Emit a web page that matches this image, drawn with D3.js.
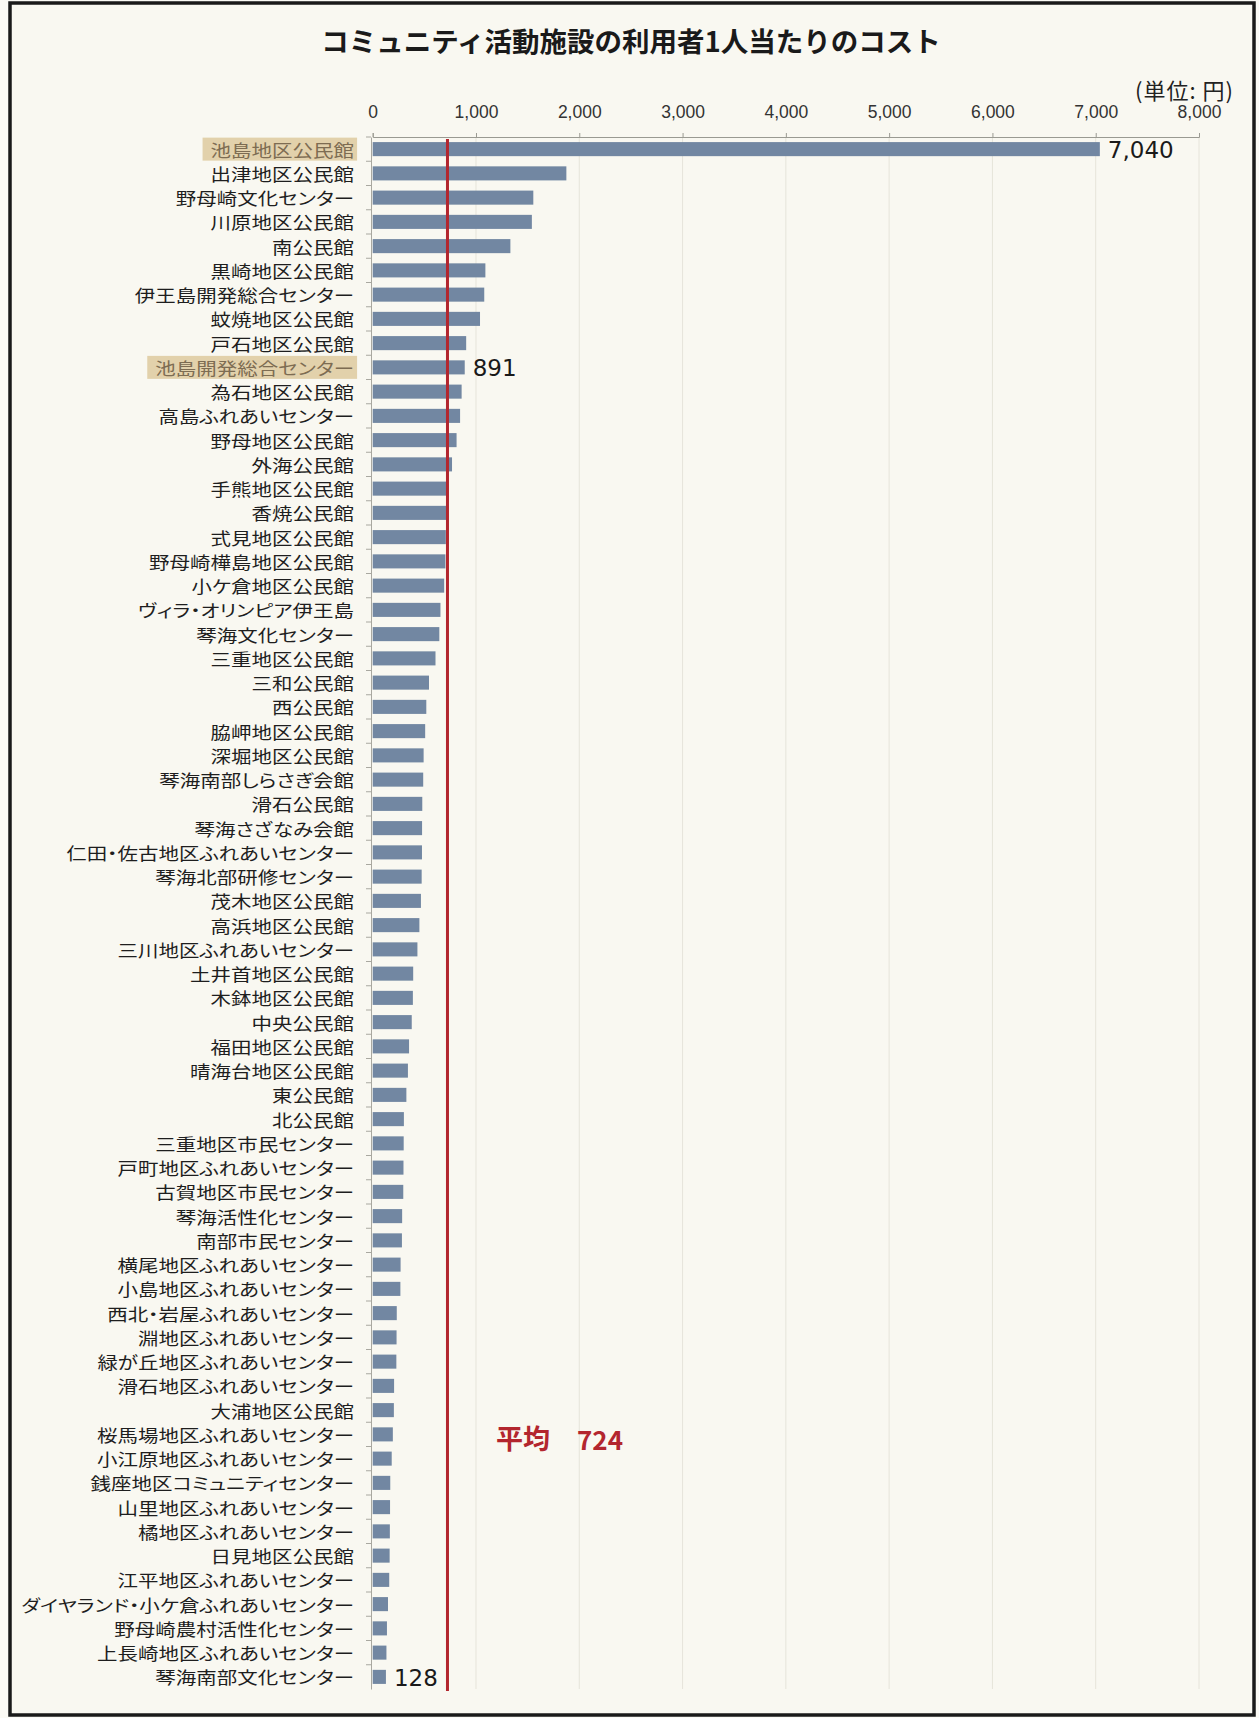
<!DOCTYPE html>
<html lang="ja">
<head>
<meta charset="utf-8">
<script src="https://cdn.jsdelivr.net/npm/d3@7/dist/d3.min.js"></script>
<style>
  html, body { margin: 0; padding: 0; background: #fbfaf5; }
  svg { display: block; }
  .jp { font-family: "Noto Sans CJK JP", "Noto Sans", sans-serif; font-feature-settings: "palt"; }
  .jpfull { font-family: "Noto Sans CJK JP", "Noto Sans", sans-serif; }
</style>
</head>
<body>
<div id="chart"></div>
<script>
const title = "コミュニティ活動施設の利用者1人当たりのコスト";
const unitLabel = "(単位: 円)";
const facilities = [
  "池島地区公民館", "出津地区公民館", "野母崎文化センター", "川原地区公民館", "南公民館",
  "黒崎地区公民館", "伊王島開発総合センター", "蚊焼地区公民館", "戸石地区公民館", "池島開発総合センター",
  "為石地区公民館", "高島ふれあいセンター", "野母地区公民館", "外海公民館", "手熊地区公民館",
  "香焼公民館", "式見地区公民館", "野母崎樺島地区公民館", "小ケ倉地区公民館", "ヴィラ・オリンピア伊王島",
  "琴海文化センター", "三重地区公民館", "三和公民館", "西公民館", "脇岬地区公民館",
  "深堀地区公民館", "琴海南部しらさぎ会館", "滑石公民館", "琴海さざなみ会館", "仁田・佐古地区ふれあいセンター",
  "琴海北部研修センター", "茂木地区公民館", "高浜地区公民館", "三川地区ふれあいセンター", "土井首地区公民館",
  "木鉢地区公民館", "中央公民館", "福田地区公民館", "晴海台地区公民館", "東公民館",
  "北公民館", "三重地区市民センター", "戸町地区ふれあいセンター", "古賀地区市民センター", "琴海活性化センター",
  "南部市民センター", "横尾地区ふれあいセンター", "小島地区ふれあいセンター", "西北・岩屋ふれあいセンター", "淵地区ふれあいセンター",
  "緑が丘地区ふれあいセンター", "滑石地区ふれあいセンター", "大浦地区公民館", "桜馬場地区ふれあいセンター", "小江原地区ふれあいセンター",
  "銭座地区コミュニティセンター", "山里地区ふれあいセンター", "橘地区ふれあいセンター", "日見地区公民館", "江平地区ふれあいセンター",
  "ダイヤランド・小ケ倉ふれあいセンター", "野母崎農村活性化センター", "上長崎地区ふれあいセンター", "琴海南部文化センター"
];
const costs = [
  7040, 1875, 1555, 1541, 1333,
  1091, 1080, 1039, 905, 891,
  861, 846, 812, 768, 718,
  712, 708, 704, 692, 656,
  645, 608, 545, 519, 508,
  493, 489, 480, 478, 477,
  474, 467, 452, 433, 392,
  389, 378, 352, 341, 326,
  302, 300, 298, 296, 285,
  283, 270, 268, 233, 231,
  229, 207, 205, 195, 184,
  170, 168, 166, 164, 160,
  148, 138, 133, 128
];
const highlighted = ["池島地区公民館", "池島開発総合センター"];
const valueLabeled = ["池島地区公民館", "池島開発総合センター", "琴海南部文化センター"];
const averageCost = 724;
const averageLabel = "平均";
const tickValues = [0, 1000, 2000, 3000, 4000, 5000, 6000, 7000, 8000];

const W = 1259, H = 1718;
const svg = d3.select("#chart").append("svg").attr("width", W).attr("height", H);

// paper + frame
svg.append("rect").attr("x", 0).attr("y", 0).attr("width", W).attr("height", H).attr("fill", "#fbfaf5");
svg.append("rect").attr("x", 10).attr("y", 3).attr("width", 1244).attr("height", 1712)
  .attr("fill", "#f9f8f1").attr("stroke", "#1a1a1a").attr("stroke-width", 3.5);

const data = facilities.map((name, i) => ({ name, value: costs[i] }));

const x = d3.scaleLinear().domain([0, 8000]).range([372.7, 1199]);
const y = d3.scaleBand().domain(facilities).range([137, 1689]).paddingInner(0.42).paddingOuter(0.21);

// title
svg.append("text").attr("class", "jpfull").attr("x", 631).attr("y", 40)
  .attr("text-anchor", "middle").attr("dominant-baseline", "central")
  .attr("font-size", 27.5).attr("font-weight", 700).attr("fill", "#1a1a1a").text(title);

svg.append("text").attr("class", "jpfull").attr("x", 1234).attr("y", 89)
  .attr("text-anchor", "end").attr("dominant-baseline", "central")
  .attr("font-size", 22).attr("letter-spacing", 1).attr("fill", "#222").text(unitLabel);

// vertical grid lines
svg.append("g").selectAll("line").data(tickValues.slice(1)).join("line")
  .attr("x1", d => x(d)).attr("x2", d => x(d))
  .attr("y1", 137).attr("y2", 1689)
  .attr("stroke", "#e6e4da").attr("stroke-width", 1);

// top axis
const xAxis = d3.axisTop(x).tickValues(tickValues).tickSize(4).tickPadding(15)
  .tickFormat(d3.format(","));
const gx = svg.append("g").attr("transform", "translate(0,137)").call(xAxis);
gx.select(".domain").attr("stroke", "#9a9a92").attr("stroke-width", 1);
gx.selectAll(".tick line").attr("stroke", "#9a9a92");
gx.selectAll(".tick text").attr("font-family", "Liberation Sans, Arial, sans-serif")
  .attr("font-size", 17.5).attr("fill", "#333");

// left axis (category)
const yAxis = d3.axisLeft(y).tickSize(0).tickFormat("");
const gy = svg.append("g").attr("transform", "translate(371,0)").call(yAxis);
gy.select(".domain").attr("stroke", "#a9a8a0").attr("stroke-width", 1);
// small ticks at band boundaries
svg.append("g").selectAll("line").data(facilities).join("line")
  .attr("x1", 366).attr("x2", 371)
  .attr("y1", d => y(d) - (y.step() - y.bandwidth()) / 2)
  .attr("y2", d => y(d) - (y.step() - y.bandwidth()) / 2)
  .attr("stroke", "#a9a8a0");

// category labels (wide gothic look: horizontally stretched) with highlight boxes
const labelX = 354;
const labelFont = 16.6;
const stretch = 1.235;
const labels = svg.append("g").attr("class", "jp");
const labelNodes = labels.selectAll("g.lab").data(data).join("g")
  .attr("class", "lab")
  .attr("transform", d => `translate(${labelX},${y(d.name) + y.bandwidth() / 2}) scale(${stretch},1)`);
labelNodes.append("text")
  .attr("x", 0).attr("y", 0)
  .attr("text-anchor", "end").attr("dominant-baseline", "central")
  .attr("font-size", labelFont)
  .attr("fill", d => highlighted.includes(d.name) ? "#7d6c52" : "#1e1e1e")
  .text(d => d.name);
labelNodes.each(function(d) {
  if (highlighted.includes(d.name)) {
    const t = d3.select(this).select("text").node();
    const bb = t.getBBox();
    d3.select(this).insert("rect", "text")
      .attr("x", bb.x - 6.5).attr("y", -11.5)
      .attr("width", bb.width + 9).attr("height", 23)
      .attr("fill", "#e2d1ab");
  }
});

// bars
svg.append("g").selectAll("rect").data(data).join("rect")
  .attr("x", x(0)).attr("y", d => y(d.name))
  .attr("width", d => x(d.value) - x(0)).attr("height", y.bandwidth())
  .attr("fill", "#7287a2");

// value labels
svg.append("g").selectAll("text").data(data.filter(d => valueLabeled.includes(d.name))).join("text")
  .attr("x", d => x(d.value) + 8).attr("y", d => y(d.name) + y.bandwidth() / 2 + 1)
  .attr("dominant-baseline", "central")
  .attr("font-family", "DejaVu Sans, sans-serif").attr("font-size", 23).attr("fill", "#1a1a1a")
  .text(d => d3.format(",")(d.value));

// average line
svg.append("line").attr("x1", x(averageCost)).attr("x2", x(averageCost))
  .attr("y1", 139).attr("y2", 1691)
  .attr("stroke", "#b3262e").attr("stroke-width", 3);

svg.append("text").attr("class", "jpfull").attr("x", 496).attr("y", 1437)
  .attr("dominant-baseline", "central").attr("font-size", 27).attr("font-weight", 700)
  .attr("fill", "#b3262e").text(averageLabel);
svg.append("text").attr("class", "jpfull").attr("x", 577).attr("y", 1438)
  .attr("dominant-baseline", "central").attr("font-size", 26).attr("font-weight", 700)
  .attr("fill", "#b3262e").text(averageCost);
</script>
</body>
</html>
